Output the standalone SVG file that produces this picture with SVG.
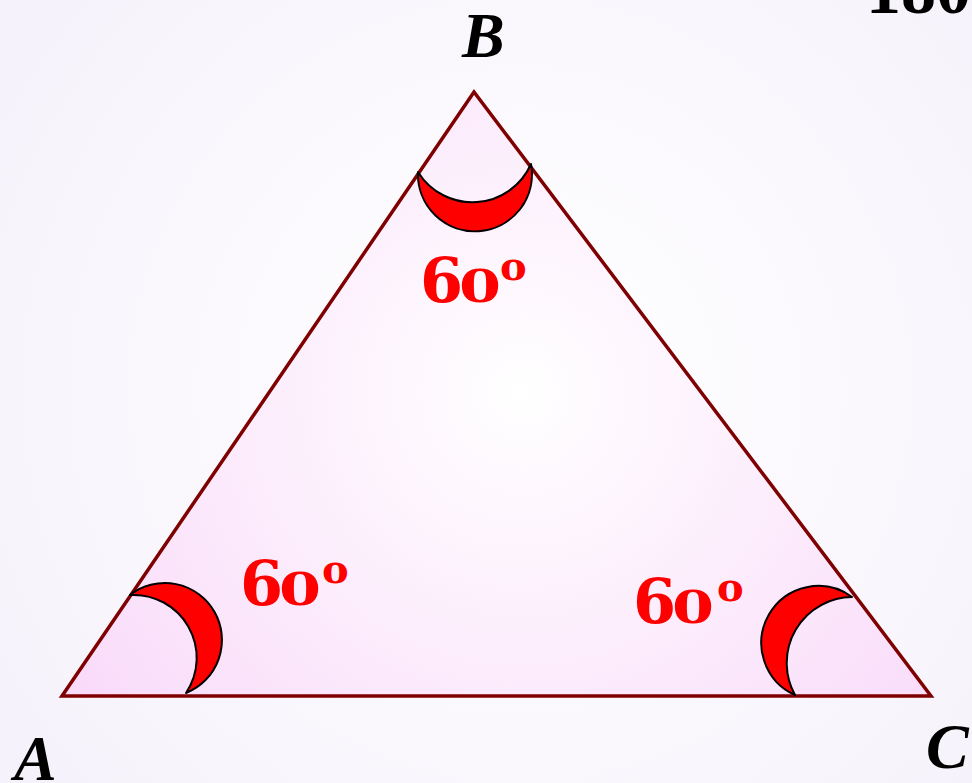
<svg xmlns="http://www.w3.org/2000/svg" width="972" height="783" viewBox="0 0 972 783">
  <defs>
    <radialGradient id="bg" gradientUnits="userSpaceOnUse" cx="520" cy="390" r="620">
      <stop offset="0" stop-color="#ffffff"/>
      <stop offset="1" stop-color="#f6f2fb"/>
    </radialGradient>
    <radialGradient id="tri" gradientUnits="userSpaceOnUse" cx="522" cy="392" r="560">
      <stop offset="0" stop-color="#ffffff"/>
      <stop offset="1" stop-color="#f9d9f9"/>
    </radialGradient>
  </defs>
  <style>
    .vx { font-family: "Liberation Serif", "Times New Roman", serif; font-weight: bold; font-style: italic; font-size: 64px; fill: #000; }
    .deg { font-family: "DejaVu Serif", "Liberation Serif", serif; font-weight: bold; font-size: 62px; fill: #ff0000; }
    .deg .z { font-size: 45px; }
    .deg .s { font-size: 40px; }
    .arc { fill: #ff0000; stroke: #000; stroke-width: 2; stroke-linejoin: round; }
    .edge { fill: url(#tri); stroke: #7f0000; stroke-width: 3.5; stroke-linejoin: miter; }
  </style>
  <rect x="0" y="0" width="972" height="783" fill="url(#bg)"/>
  <text x="866" y="13" style="font-family: 'Liberation Serif', serif; font-weight: bold; font-size: 70px; fill: #000;">180</text>

  <g id="triangle">
    <polygon class="edge" points="62,696 474,92 931,696"/>
  </g>

  <g id="angle-marks">
    <path id="arc-B" class="arc" d="M 418 172 A 57 57 0 1 0 531 164 A 64 64 0 0 1 418 172 Z"/>
    <path id="arc-A" class="arc" d="M 130 595 A 57 57 0 1 1 186 693 A 63 63 0 0 0 130 595 Z"/>
    <path id="arc-C" class="arc" d="M 852 597 A 57 57 0 1 0 795 695 A 66 66 0 0 1 852 597 Z"/>
  </g>

  <g id="vertex-A"><text class="vx" x="14" y="780">A</text></g>
  <g id="vertex-B"><text class="vx" x="462" y="57">B</text></g>
  <g id="vertex-C"><text class="vx" x="926" y="768">C</text></g>

  <g id="label-B"><text class="deg" x="420" y="302">6<tspan class="z" x="459" textLength="42" lengthAdjust="spacingAndGlyphs">0</tspan><tspan class="s" x="500" y="280">o</tspan></text></g>
  <g id="label-A"><text class="deg" x="240" y="605">6<tspan class="z" x="279" textLength="42" lengthAdjust="spacingAndGlyphs">0</tspan><tspan class="s" x="322" y="583">o</tspan></text></g>
  <g id="label-C"><text class="deg" x="633" y="623">6<tspan class="z" x="672" textLength="42" lengthAdjust="spacingAndGlyphs">0</tspan><tspan class="s" x="717" y="601">o</tspan></text></g>
</svg>
